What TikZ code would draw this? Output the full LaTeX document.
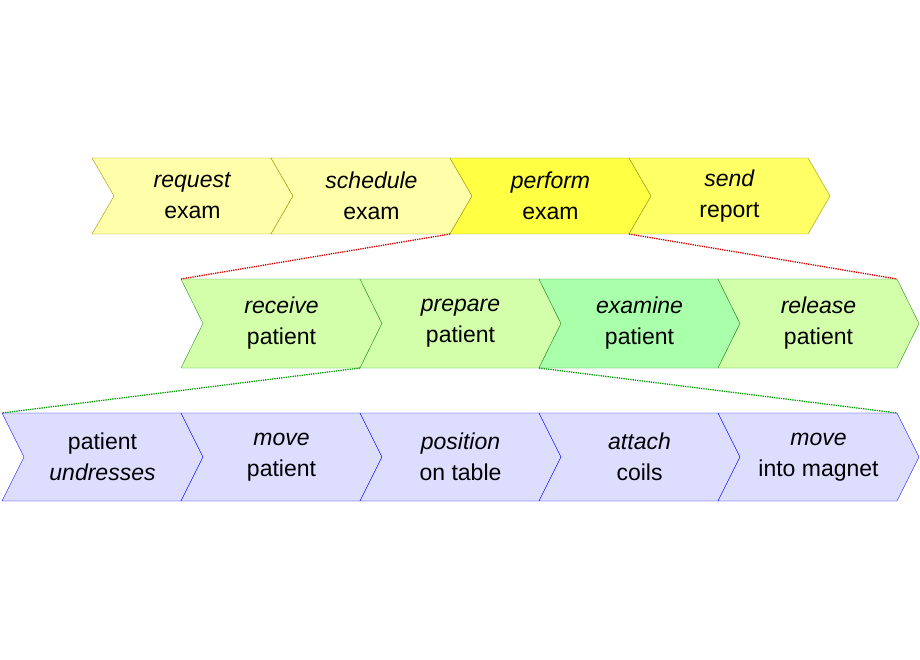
\documentclass[tikz,border=0pt]{standalone}
\usepackage{fontspec}
\setmainfont{Liberation Sans}
\definecolor{yelA}{HTML}{FFFFAA}
\definecolor{yelB}{HTML}{FFFF44}
\definecolor{yelC}{HTML}{FFFF66}
\definecolor{yelD}{HTML}{999900}
\definecolor{grnA}{HTML}{D4FFAA}
\definecolor{grnB}{HTML}{AAFFAA}
\definecolor{grnD}{HTML}{229922}
\definecolor{bluA}{HTML}{DDDDFF}
\tikzset{lbl/.style={align=center,font=\fontsize{23}{31}\selectfont}}
% chevron: name, x, y, height, fill, draw, text
\newcommand\chevron[7]{%
\filldraw[fill=#5,draw=#6] (#2,#3) coordinate (#1-nw) -- ++(179,0) coordinate (#1-ne)
 -- ++(22,#4/2) -- ++(-22,#4/2) coordinate (#1-se) -- ++(-179,0) coordinate (#1-sw)
 -- ++(22,-#4/2) -- cycle;
\node[lbl] (#1) at (#2+100.5,#3+#4/2) {#7};}
\begin{document}
\begin{tikzpicture}[x=1pt,y=-1pt]
\useasboundingbox (0,0) rectangle (920,660);
\chevron{request}{92}{158}{76}{yelA}{yelD}{\textit{request}\\exam}
\chevron{schedule}{271}{158}{76}{yelA}{yelD}{\textit{schedule}\\exam}
\chevron{perform}{450}{158}{76}{yelB}{yelD}{\textit{perform}\\exam}
\chevron{send}{629}{158}{76}{yelC}{yelD}{\textit{send}\\report}
\chevron{receive}{181}{279}{89}{grnA}{grnD}{\textit{receive}\\patient}
\chevron{prepare}{360}{279}{89}{grnA}{grnD}{\textit{prepare}\\patient}
\chevron{examine}{539}{279}{89}{grnB}{grnD}{\textit{examine}\\patient}
\chevron{release}{718}{279}{89}{grnA}{grnD}{\textit{release}\\patient}
\chevron{undress}{2}{413}{88}{bluA}{blue}{patient\\\textit{undresses}}
\chevron{move}{181}{413}{88}{bluA}{blue}{\textit{move}\\patient}
\chevron{position}{360}{413}{88}{bluA}{blue}{\textit{position}\\on table}
\chevron{attach}{539}{413}{88}{bluA}{blue}{\textit{attach}\\coils}
\chevron{magnet}{718}{413}{88}{bluA}{blue}{\textit{move}\\into magnet}
\draw[red!80!black,densely dotted,line width=1.3pt] (perform-sw) -- (receive-nw);
\draw[red!80!black,densely dotted,line width=1.3pt] (perform-se) -- (release-ne);
\draw[green!60!black,densely dotted,line width=1.3pt] (prepare-sw) -- (undress-nw);
\draw[green!60!black,densely dotted,line width=1.3pt] (examine-sw) -- (magnet-ne);
\end{tikzpicture}
\end{document}
